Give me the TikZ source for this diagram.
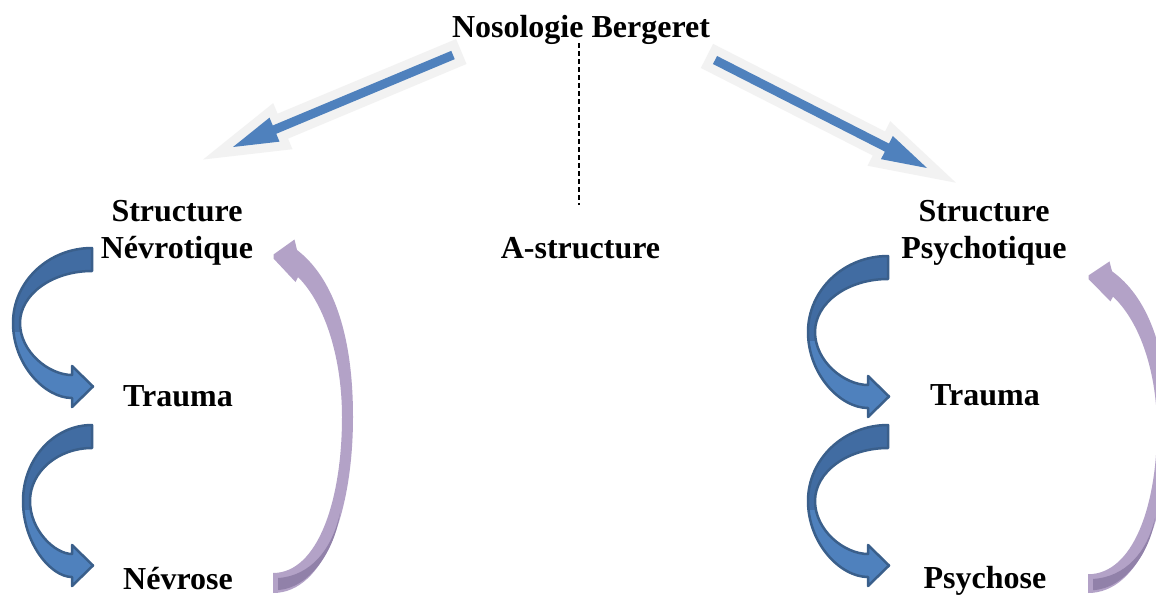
\documentclass[tikz,border=0pt]{standalone}
\usepackage{fontspec}
\setmainfont{Liberation Serif}
\usetikzlibrary{calc}
\definecolor{blueLight}{HTML}{4F81BD}
\definecolor{blueDark}{HTML}{416CA2}
\definecolor{blueBorder}{HTML}{3A5F8B}
\definecolor{purpleMain}{HTML}{B3A2C7}
\definecolor{purpleDark}{HTML}{9181A9}
\definecolor{glowGray}{HTML}{F2F2F2}
\tikzset{
  lbl/.style={font=\bfseries\fontsize{32}{37}\selectfont, inner sep=0pt, anchor=base},
  glowline/.style={draw=glowGray, line width=18pt, line join=miter, miter limit=20},
  blueflat/.style={fill=blueLight},
  dashline/.style={dash pattern=on 5pt off 3pt, line width=1.6pt},
}
% straight block arrow from #1 (tail) to #2 (tip)
\newcommand{\blockarrowpath}[2]{%
  ($(#1)!4.5pt!90:(#2)$) -- ($($(#2)!45pt!(#1)$)!4.5pt!-90:(#1)$)
  -- ($($(#2)!45pt!(#1)$)!13pt!-90:(#1)$) -- (#2)
  -- ($($(#2)!45pt!(#1)$)!13pt!90:(#1)$)
  -- ($($(#2)!45pt!(#1)$)!4.5pt!90:(#1)$) -- ($(#1)!4.5pt!-90:(#2)$) -- cycle}
% curved blue arrow: #1 tail right x, #2 top y, #3 rx, #4 total height
\newcommand{\bluecurve}[4]{%
  \pgfmathsetmacro{\bcXr}{#1}%
  \pgfmathsetmacro{\bcYt}{#2}%
  \pgfmathsetmacro{\bcRx}{#3}%
  \pgfmathsetmacro{\bcRy}{#4/2}%
  \pgfmathsetmacro{\bcC}{#2+#4/2}%
  \pgfmathsetmacro{\bcXl}{#1-#3}%
  \pgfmathsetmacro{\bcRxi}{#3-7}%
  \pgfmathsetmacro{\bcRyi}{#4/2-23}%
  \pgfmathsetmacro{\bcXli}{#1-#3+7}%
  \pgfmathsetmacro{\bcYb}{#2+#4}%
  \pgfmathsetmacro{\bcYti}{#2+23}%
  \pgfmathsetmacro{\bcYbi}{#2+#4-23}%
  \pgfmathsetmacro{\bcXh}{#1-20}%
  \pgfmathsetmacro{\bcYm}{#2+#4-11.5}%
  \def\bcPath{(\bcXr,\bcYt) -- (\bcXr,\bcYti)
    .. controls ({\bcXr-0.552*\bcRxi},\bcYti) and (\bcXli,{\bcC-0.552*\bcRyi}) .. (\bcXli,\bcC)
    .. controls (\bcXli,{\bcC+0.552*\bcRyi}) and ({\bcXli+0.4*\bcRxi},\bcYbi) .. (\bcXh,\bcYbi)
    -- (\bcXh,{\bcYbi-9}) -- ({\bcXr+1},\bcYm) -- (\bcXh,{\bcYb+9}) -- (\bcXh,\bcYb)
    .. controls ({\bcXl+0.4*\bcRx},\bcYb) and (\bcXl,{\bcC+0.552*\bcRy}) .. (\bcXl,\bcC)
    .. controls (\bcXl,{\bcC-0.552*\bcRy}) and ({\bcXr-0.552*\bcRx},\bcYt) .. (\bcXr,\bcYt) -- cycle}%
  \fill[blueLight] \bcPath;
  \begin{scope}
    \clip ({\bcXl-6},{\bcYt-6}) rectangle ({\bcXr+6},{\bcC+8});
    \fill[blueDark] \bcPath;
  \end{scope}
  \draw[blueBorder, line width=2.5pt, line join=round] \bcPath;
}
\newcommand{\purplecurve}{%
  \fill[purpleMain] (273,593) .. controls (325,593) and (353,510) .. (353,417)
    .. controls (353,330) and (331,276) .. (297,250) -- (294.5,239.5) -- (273.5,254.5)
    -- (273.5,258.5) -- (295.5,282) -- (298,277) .. controls (326,305) and (342,360) .. (342,417)
    .. controls (342,500) and (318,573) .. (273,573) -- cycle;
  \fill[purpleDark] (278,578) .. controls (310,576) and (332,550) .. (340,513)
    .. controls (335,550) and (310,588) .. (278,590) -- cycle;
}
\begin{document}
\begin{tikzpicture}[x=1pt, y=-1pt]
\useasboundingbox (0,0) rectangle (1156,597);
\clip (0,0) rectangle (1156,597);
\fill[white] (0,0) rectangle (1156,597);

% texts
\node[lbl] (nos) at (581,37) {Nosologie Bergeret};
\node[lbl] (strN) at (177,221) {Structure};
\node[lbl] (nevrotique) at (177,258) {Névrotique};
\node[lbl] (astr) at (580.5,258) {A-structure};
\node[lbl] (strP) at (984,221) {Structure};
\node[lbl] (psychotique) at (984,258) {Psychotique};
\node[lbl] (traumaL) at (178,406) {Trauma};
\node[lbl] (nevrose) at (178,589) {Névrose};
\node[lbl] (traumaR) at (985,405) {Trauma};
\node[lbl] (psychose) at (985,588) {Psychose};

% dashed line
\coordinate (dtop) at (579,43);
\coordinate (dbot) at (579,205);
\draw[dashline] (dtop) -- (dbot);

% straight arrows
\coordinate (laTail) at (453,55);
\coordinate (laTip) at (233,147);
\coordinate (raTail) at (715,60);
\coordinate (raTip) at (927,168);
\draw[glowline] \blockarrowpath{laTail}{laTip};
\draw[glowline] \blockarrowpath{raTail}{raTip};
\fill[blueflat] \blockarrowpath{laTail}{laTip};
\fill[blueflat] \blockarrowpath{raTail}{raTip};

% curved blue arrows
\bluecurve{92}{248}{79}{150}
\bluecurve{92}{425}{69}{152}
\bluecurve{888}{256}{80}{152}
\bluecurve{888}{425}{80}{152}

% purple return arrows
\purplecurve
\begin{scope}[shift={(815,593)}, yscale=0.938, shift={(0,-593)}]
  \purplecurve
\end{scope}
\end{tikzpicture}
\end{document}
